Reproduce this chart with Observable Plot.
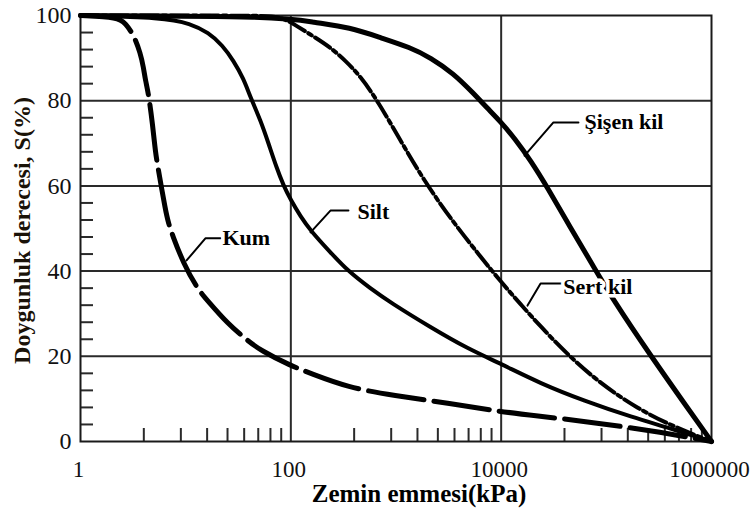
<!DOCTYPE html>
<html><head><meta charset="utf-8">
<script src="https://cdn.jsdelivr.net/npm/d3@7"></script>
<script src="https://cdn.jsdelivr.net/npm/@observablehq/plot@0.6"></script>
<style>body{margin:0;background:#fff}</style>
</head><body><div id="chart"></div>
<script>
// ---- data (suction kPa, saturation %) ----
const kumKPa  = [1, 2.3, 2.68, 3.2, 3.72, 3.97, 4.15, 4.43, 4.84, 5.17, 5.52, 6.43, 6.87, 7.5, 9.53, 12.9, 16.1, 25, 38.7, 51.5, 99.3, 154, 346, 946, 3300, 9860, 20300, 75500, 349000, 1000000];
const kumS    = [100, 99.6, 98.1, 95.5, 91.1, 87.8, 84.7, 81.7, 74.6, 67.6, 63.6, 54.2, 51.2, 48.4, 41.8, 35.9, 33.1, 27.7, 23.7, 21.4, 17.8, 16.0, 12.7, 10.8, 8.9, 7.0, 6.1, 4.5, 2.1, 0];
const siltKPa = [1, 6.15, 11.1, 16.5, 22.4, 28.5, 35.5, 41.3, 51.5, 61.3, 73.1, 85.2, 99.3, 124, 154, 238, 346, 572, 887, 2130, 4790, 9860, 23700, 60700, 181000, 381000, 1000000];
const siltS   = [100, 99.5, 98.1, 96.0, 93.0, 89.4, 85.2, 80.8, 75.4, 70.0, 64.3, 60.1, 56.8, 52.8, 49.5, 44.4, 40.1, 35.9, 32.6, 26.8, 21.8, 18.3, 13.6, 9.6, 5.6, 3.3, 0];
const sertKPa = [1, 50, 79.8, 111, 164, 238, 331, 460, 667, 1100, 1820, 3300, 6360, 9860, 15300, 23700, 42700, 87900, 198000, 435000, 1000000];
const sertS   = [100, 100, 99.8, 97.7, 95.1, 92.5, 89.4, 85.7, 80.0, 70.7, 61.5, 52.3, 43.4, 37.6, 32.2, 27.0, 20.4, 13.6, 7.7, 3.5, 0];
const sisenKPa = [1, 79.8, 164, 369, 712, 1370, 2130, 3520, 5460, 7410, 9860, 13700, 19000, 27600, 45600, 73800, 117000, 263000, 591000, 1000000];
const sisenS   = [100, 99.8, 98.4, 97.2, 94.8, 92.5, 90.1, 86.4, 81.7, 78.2, 75.1, 70.9, 66.0, 59.6, 50.2, 41.5, 33.1, 20.2, 7.9, 0];

// labels and leader lines (data coordinates)
const labelNames = ["Kum", "Silt", "Şişen kil", "Sert kil"];
const labelKPa   = [22.4, 430, 62000, 39000];
const labelS     = [47.7, 53.8, 74.9, 36.2];
const leaderName = ["Kum","Kum","Kum","Silt","Silt","Silt","Şişen kil","Şişen kil","Şişen kil","Sert kil","Sert kil","Sert kil"];
const leaderKPa  = [10.2, 15.4, 21.4, 154, 238, 353, 16700, 31400, 54300, 17800, 23700, 37500];
const leaderS    = [42.5, 47.7, 47.7, 49.1, 54.2, 54.2, 67.1, 74.9, 74.9, 31.9, 37.1, 37.1];

// axes
const xTicks = [1, 100, 10000, 1000000];
const yTicks = [0, 20, 40, 60, 80, 100];
const gridS = [20, 40, 60, 80];
const gridKPa = [100, 10000];
const minorS = [4, 8, 12, 16, 24, 28, 32, 36, 44, 48, 52, 56, 64, 68, 72, 76, 84, 88, 92, 96];
const minorKPa = [4, 9, 16, 25, 36, 49, 64, 81, 400, 900, 1600, 2500, 3600, 4900, 6400, 8100, 40000, 90000, 160000, 250000, 360000, 490000, 640000, 810000];
const xTitle = "Zemin emmesi(kPa)";
const yTitle = "Doygunluk derecesi, S(%)";

const toRows = (xs, ys) => xs.map((p, i) => ({p, s: ys[i]}));
const kum = toRows(kumKPa, kumS);
const silt = toRows(siltKPa, siltS);
const sert = toRows(sertKPa, sertS);
const sisen = toRows(sisenKPa, sisenS);
const labels = labelNames.map((n, i) => ({n, p: labelKPa[i], s: labelS[i]}));
const leaders = leaderName.map((n, i) => ({n, p: leaderKPa[i], s: leaderS[i]}));

const chart = Plot.plot({
  width: 752, height: 520,
  marginLeft: 80, marginRight: 41, marginTop: 15, marginBottom: 79,
  style: {fontFamily: "'Liberation Serif', 'Times New Roman', serif", background: "#fff", color: "#000", overflow: "visible"},
  x: {type: "log", domain: [1, 1e6]},
  y: {domain: [0, 100]},
  marks: [
    Plot.ruleY(gridS, {stroke: "#2a2a2a", strokeWidth: 2}),
    Plot.ruleX(gridKPa, {stroke: "#2a2a2a", strokeWidth: 2}),
    Plot.tickY(minorS, {insetRight: 618, stroke: "#2a2a2a", strokeWidth: 2}),
    Plot.tickX(minorKPa, {insetTop: 413, stroke: "#2a2a2a", strokeWidth: 2}),
    Plot.frame({stroke: "#1a1a1a", strokeWidth: 2}),
    Plot.axisX({ticks: xTicks, tickSize: 0, tickPadding: 19, dx: -2, tickFormat: d3.format("d"), fontSize: 23, label: null, fill: "#111"}),
    Plot.axisY({ticks: yTicks, tickSize: 0, tickPadding: 9, fontSize: 24, label: null, fill: "#111"}),
    Plot.line(kum, {x: "p", y: "s", curve: "basis", stroke: "#000", strokeWidth: 5, strokeDasharray: "56,10"}),
    Plot.line(silt, {x: "p", y: "s", curve: "basis", stroke: "#000", strokeWidth: 4}),
    Plot.line(sert, {x: "p", y: "s", curve: "basis", stroke: "#000", strokeWidth: 4, strokeDasharray: "18,4,4,4"}),
    Plot.line(sisen, {x: "p", y: "s", curve: "basis", stroke: "#000", strokeWidth: 5}),
    Plot.line(leaders, {x: "p", y: "s", z: "n", stroke: "#000", strokeWidth: 2}),
    Plot.text(labels, {x: "p", y: "s", text: "n", textAnchor: "start", fontSize: 22, fontWeight: "bold", fill: "#000", stroke: "#fff", strokeWidth: 7, paintOrder: "stroke"}),
    Plot.text([xTitle], {text: d => d, frameAnchor: "bottom", dx: 23, dy: 60, fontSize: 25, fontWeight: "bold", fill: "#000"}),
    Plot.text([yTitle], {text: d => d, frameAnchor: "left", textAnchor: "middle", rotate: -90, dx: -58, dy: 2, fontSize: 24, fontWeight: "bold", fill: "#1a1208"})
  ]
});
document.getElementById("chart").append(chart);
</script>
</body></html>
